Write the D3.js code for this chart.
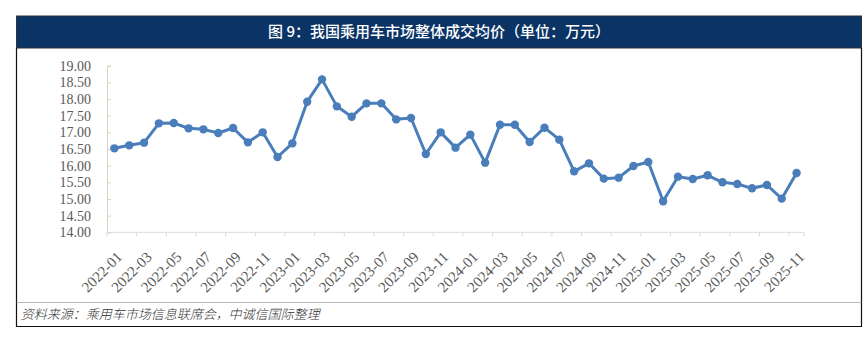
<!DOCTYPE html>
<html>
<head>
<meta charset="utf-8">
<script src="https://cdn.jsdelivr.net/npm/d3@7"></script>
<style>
  html, body { margin: 0; padding: 0; background: #fff; }
  svg { display: block; }
</style>
</head>
<body>
<div id="chart"></div>
<script>
const titleText = "图 9：我国乘用车市场整体成交均价（单位：万元）";
const sourceText = "资料来源：乘用车市场信息联席会，中诚信国际整理";

const months = [
  "2022-01","2022-02","2022-03","2022-04","2022-05","2022-06","2022-07","2022-08","2022-09","2022-10","2022-11","2022-12",
  "2023-01","2023-02","2023-03","2023-04","2023-05","2023-06","2023-07","2023-08","2023-09","2023-10","2023-11","2023-12",
  "2024-01","2024-02","2024-03","2024-04","2024-05","2024-06","2024-07","2024-08","2024-09","2024-10","2024-11","2024-12",
  "2025-01","2025-02","2025-03","2025-04","2025-05","2025-06","2025-07","2025-08","2025-09","2025-10","2025-11"
];
const prices = [
  16.52,16.61,16.69,17.27,17.28,17.12,17.09,16.98,17.13,16.70,17.00,16.26,
  16.67,17.92,18.59,17.78,17.47,17.87,17.87,17.39,17.43,16.35,17.00,16.54,
  16.93,16.09,17.23,17.23,16.71,17.14,16.78,15.83,16.07,15.61,15.64,15.99,
  16.11,14.93,15.67,15.60,15.71,15.50,15.45,15.32,15.42,15.01,15.78
];
const yTicks = [14,14.5,15,15.5,16,16.5,17,17.5,18,18.5,19];

const W = 868, H = 347;
const svg = d3.select("#chart").append("svg").attr("width", W).attr("height", H);

// frame
const fx0 = 16.5, fx1 = 861.5, fy0 = 16, fy1 = 326.5;
svg.append("rect").attr("x", fx0).attr("y", fy0).attr("width", fx1 - fx0).attr("height", 32)
  .attr("fill", "#0a3465").attr("stroke", "#333").attr("stroke-width", 1);
svg.append("text").attr("x", (fx0 + fx1) / 2).attr("y", 32).attr("dy", "0.36em")
  .attr("text-anchor", "middle").attr("fill", "#fff")
  .attr("font-family", "'Noto Sans CJK SC', sans-serif").attr("font-size", 15).attr("font-weight", 500)
  .text(titleText);
svg.append("path").attr("d", `M${fx0},48 V${fy1} H${fx1} V48`)
  .attr("fill", "none").attr("stroke", "#111").attr("stroke-width", 1.2);
svg.append("line").attr("x1", fx0).attr("x2", fx1).attr("y1", 302.5).attr("y2", 302.5)
  .attr("stroke", "#777").attr("stroke-width", 1).attr("stroke-dasharray", "1,1");
svg.append("text").attr("x", 0).attr("y", 0).attr("dy", "0.36em")
  .attr("fill", "#333").attr("font-family", "'Noto Sans CJK SC', sans-serif")
  .attr("font-size", 13).attr("font-weight", 300)
  .attr("transform", "translate(22,314) skewX(-14)")
  .text(sourceText);

// plot
const x0 = 107, x1 = 804, yTop = 65.7, yBot = 232.3;
const x = d3.scaleBand().domain(months).range([x0, x1]).padding(0);
const y = d3.scaleLinear().domain([14, 19]).range([yBot, yTop]);

const axisColor = "#d9d5bf";
const labelColor = "#595959";

// y axis
const yAxis = svg.append("g").attr("transform", `translate(${x0},0)`)
  .call(d3.axisLeft(y).tickValues(yTicks).tickFormat(d3.format(".2f")).tickSize(-4).tickPadding(16));
yAxis.select(".domain").attr("stroke", axisColor);
yAxis.selectAll(".tick line").attr("stroke", axisColor);
yAxis.selectAll("text").attr("fill", labelColor)
  .attr("font-family", "'Liberation Serif', serif").attr("font-size", 14);

// x axis
const xAxisG = svg.append("g").attr("transform", `translate(0,${yBot})`);
xAxisG.append("line").attr("x1", x0).attr("x2", x1).attr("stroke", "#d9d9d9");
const tickMonths = months.filter((d, i) => i % 2 === 0);
xAxisG.selectAll("line.tk").data(tickMonths.concat(["__end"])).enter().append("line")
  .attr("class", "tk")
  .attr("x1", d => d === "__end" ? x1 : x(d)).attr("x2", d => d === "__end" ? x1 : x(d))
  .attr("y1", 0).attr("y2", 4).attr("stroke", "#d9d9d9");
xAxisG.selectAll("text").data(tickMonths).enter().append("text")
  .attr("transform", d => `translate(${x(d) + x.bandwidth() / 2 + 5},${22}) rotate(-45)`)
  .attr("text-anchor", "end").attr("dy", "0.35em")
  .attr("fill", labelColor).attr("font-family", "'Liberation Serif', serif").attr("font-size", 15)
  .text(d => d);

// line
const cx = d => x(d) + x.bandwidth() / 2;
const line = d3.line().x((d, i) => cx(months[i])).y(d => y(d));
svg.append("path").datum(prices).attr("d", line)
  .attr("fill", "none").attr("stroke", "#4a7ebb").attr("stroke-width", 3).attr("stroke-linejoin", "round");
svg.selectAll("circle.pt").data(prices).enter().append("circle")
  .attr("class", "pt").attr("cx", (d, i) => cx(months[i])).attr("cy", d => y(d)).attr("r", 4.2)
  .attr("fill", "#4a7ebb");
</script>
</body>
</html>
